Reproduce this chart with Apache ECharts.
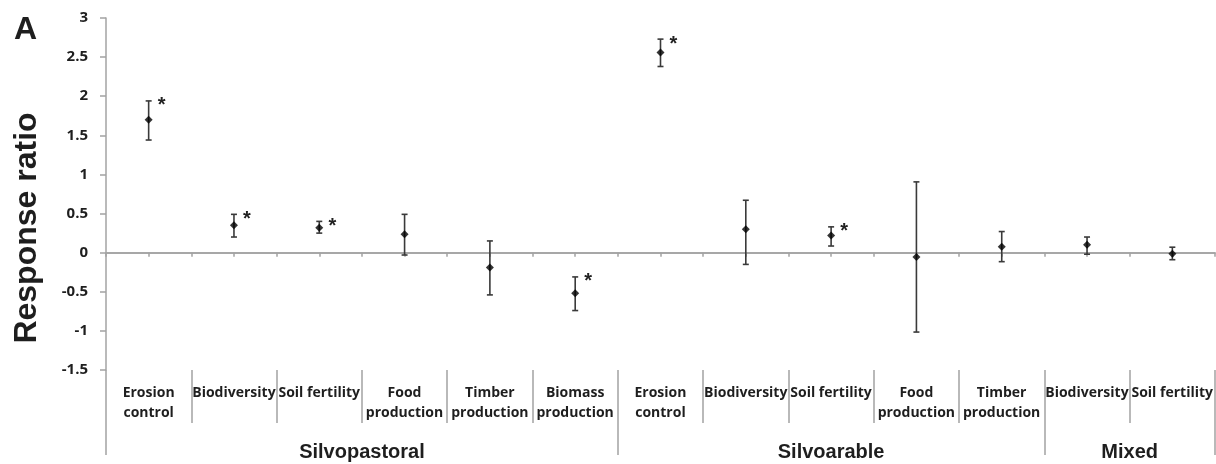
<!DOCTYPE html>
<html>
<head>
<meta charset="utf-8">
<script src="https://cdn.jsdelivr.net/npm/echarts@6/dist/echarts.min.js"></script>
<style>
  html, body { margin: 0; padding: 0; background: #fff; }
</style>
</head>
<body>
<div id="chart" style="width:1216px; height:464px;"></div>
<script>
// categories along the x axis (left to right)
let categories = ['Erosion\ncontrol', 'Biodiversity', 'Soil fertility', 'Food\nproduction', 'Timber\nproduction', 'Biomass\nproduction',
                  'Erosion\ncontrol', 'Biodiversity', 'Soil fertility', 'Food\nproduction', 'Timber\nproduction',
                  'Biodiversity', 'Soil fertility'];
// response ratio, with lower / upper end of the error bar
let means  = [1.70, 0.35, 0.32, 0.235, -0.19, -0.52, 2.56, 0.30, 0.22, -0.055, 0.077, 0.10, -0.013];
let lower  = [1.44, 0.20, 0.25, -0.03, -0.54, -0.74, 2.38, -0.15, 0.085, -1.015, -0.115, -0.02, -0.09];
let upper  = [1.94, 0.49, 0.40, 0.49, 0.15, -0.31, 2.73, 0.67, 0.33, 0.905, 0.27, 0.20, 0.07];
let significant = [1, 1, 1, 0, 0, 1, 1, 0, 1, 0, 0, 0, 0];
// systems and how many categories each one spans
let groups = ['Silvopastoral', 'Silvoarable', 'Mixed'];
let groupSizes = [6, 5, 2];
let yTicks = { min: -1.5, max: 3, interval: 0.5 };

let grey = '#a3a3a3';
let textColor = '#1e1e1e';

// group boundaries and centres in category units
let bounds = [0];
let centres = [];
groupSizes.forEach(n => {
    let start = bounds[bounds.length - 1];
    centres.push(start + n / 2);
    bounds.push(start + n);
});

let barData = [];
let pointData = [];
categories.forEach((c, i) => {
    barData.push([i, means[i], lower[i], upper[i], significant[i]]);
    pointData.push([i, means[i]]);
});

var myChart = echarts.init(document.getElementById('chart'));

let option = {
    animation: false,
    grid: [
        { left: 106, right: 1, top: 18, height: 352 },
        { left: 106, right: 1, top: 370, height: 53 },
        { left: 106, right: 1, top: 370, height: 85 }
    ],
    xAxis: [
        {
            type: 'category', gridIndex: 0, data: categories,
            axisLine: { onZero: true, onZeroAxisIndex: 0, lineStyle: { color: grey, width: 1.5 } },
            axisTick: { show: true, length: 4, interval: 0, lineStyle: { color: grey, width: 1.5 } },
            axisLabel: { show: false }
        },
        {
            // second set of ticks at category centres, also on the zero line
            type: 'category', gridIndex: 0, data: categories, position: 'bottom',
            axisLine: { show: true, onZero: true, onZeroAxisIndex: 1, lineStyle: { color: grey, width: 1.5 } },
            axisTick: { show: true, alignWithLabel: true, length: 4, interval: 0, lineStyle: { color: grey, width: 1.5 } },
            axisLabel: { show: false }
        },
        {
            // label table under the plot
            type: 'category', gridIndex: 1, data: categories, position: 'top',
            axisLine: { show: false, onZero: false },
            axisTick: { show: true, inside: true, length: 53, interval: 0, lineStyle: { color: grey, width: 1.5 } },
            axisLabel: {
                inside: true, margin: 13, interval: 0, verticalAlign: 'top',
                fontFamily: 'Open Sans', fontWeight: 'bold', fontSize: 14, lineHeight: 20, color: textColor
            }
        },
        {
            // system names under the table
            type: 'value', gridIndex: 2, min: 0, max: categories.length, position: 'top',
            axisLine: { show: false, onZero: false },
            splitLine: { show: false },
            axisTick: { show: true, inside: true, length: 85, customValues: bounds, lineStyle: { color: grey, width: 1.5 } },
            axisLabel: {
                inside: true, margin: 72, verticalAlign: 'top', customValues: centres,
                formatter: v => groups[centres.indexOf(v)],
                fontFamily: 'Liberation Sans', fontWeight: 'bold', fontSize: 20, color: textColor
            }
        }
    ],
    yAxis: [
        {
            type: 'value', gridIndex: 0, min: yTicks.min, max: yTicks.max, interval: yTicks.interval,
            axisLine: { show: true, lineStyle: { color: grey, width: 1.5 } },
            axisTick: { show: true, length: 6, lineStyle: { color: grey, width: 1.5 } },
            splitLine: { show: false },
            axisLabel: { margin: 18, fontFamily: 'Open Sans', fontWeight: 'bold', fontSize: 15, color: textColor }
        },
        {
            // hidden twin, so the second x axis can sit on zero as well
            type: 'value', gridIndex: 0, show: false, position: 'left',
            min: yTicks.min, max: yTicks.max, interval: yTicks.interval
        },
        { type: 'value', gridIndex: 1, show: false, min: 0, max: 1 },
        { type: 'value', gridIndex: 2, show: false, min: 0, max: 1 }
    ],
    graphic: [
        {
            type: 'text', left: 14, top: 14,
            style: { text: 'A', font: 'bold 32px "Liberation Sans"', fill: textColor }
        },
        {
            type: 'text', x: 27, y: 228, rotation: Math.PI / 2,
            style: { text: 'Response ratio', font: 'bold 32px "Liberation Sans"', fill: textColor,
                     align: 'center', verticalAlign: 'middle' }
        }
    ],
    series: [
        {
            type: 'custom',
            xAxisIndex: 0, yAxisIndex: 0,
            data: barData,
            encode: { x: 0, y: 1 },
            renderItem: function (params, api) {
                let lo = api.coord([api.value(0), api.value(2)]);
                let hi = api.coord([api.value(0), api.value(3)]);
                let cap = 3;
                let style = { stroke: '#3a3a3a', lineWidth: 1.6 };
                let children = [
                    { type: 'line', shape: { x1: hi[0], y1: hi[1], x2: lo[0], y2: lo[1] }, style: style },
                    { type: 'line', shape: { x1: hi[0] - cap, y1: hi[1], x2: hi[0] + cap, y2: hi[1] }, style: style },
                    { type: 'line', shape: { x1: lo[0] - cap, y1: lo[1], x2: lo[0] + cap, y2: lo[1] }, style: style }
                ];
                if (api.value(4)) {
                    children.push({
                        type: 'text',
                        style: { text: '*', x: hi[0] + 13, y: hi[1] + 5, align: 'center', verticalAlign: 'middle',
                                 font: 'bold 20px "Liberation Sans"', fill: '#222' }
                    });
                }
                return { type: 'group', children: children };
            },
            z: 2
        },
        {
            type: 'scatter',
            xAxisIndex: 0, yAxisIndex: 0,
            data: pointData,
            symbol: 'diamond',
            symbolSize: 8,
            itemStyle: { color: '#000' },
            z: 3
        }
    ]
};

myChart.setOption(option);
</script>
</body>
</html>
